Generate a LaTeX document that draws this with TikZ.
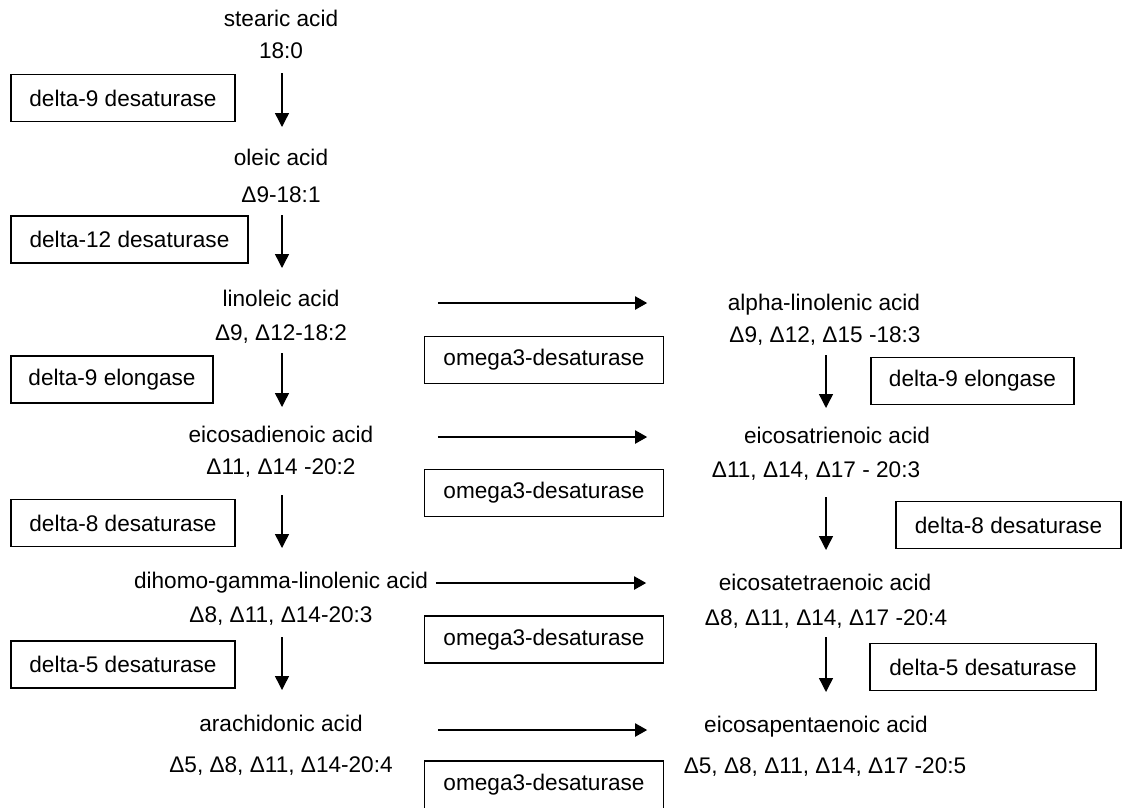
\documentclass[tikz,border=0pt]{standalone}
\usepackage{fontspec}
\setmainfont{Liberation Sans}
\usetikzlibrary{arrows.meta}
\begin{document}
\begin{tikzpicture}[x=1pt,y=-1pt,
  lbl/.style={inner sep=0pt, anchor=base, font=\fontsize{22.6}{26}\selectfont},
  enz/.style={draw, line width=1.4pt, inner sep=0pt, minimum height=47pt,
    font=\fontsize{22.6}{26}\selectfont},
  varr/.style={line width=1.4pt, -{Triangle[length=14pt,width=14pt]}},
  harr/.style={line width=2pt, -{Triangle[length=12pt,width=13pt]}}]
\clip (0,0) rectangle (1123,807);
\fill[white] (0,0) rectangle (1123,807);

% omega-6 branch (left column)
\node[lbl] (n1) at (281,26)  {stearic acid};
\node[lbl] (f1) at (281,58)  {18:0};
\node[lbl] (n2) at (281,165) {oleic acid};
\node[lbl] (f2) at (281,202) {Δ9-18:1};
\node[lbl] (n3) at (281,306) {linoleic acid};
\node[lbl] (f3) at (281,340) {Δ9, Δ12-18:2};
\node[lbl] (n4) at (281,442) {eicosadienoic acid};
\node[lbl] (f4) at (281,474) {Δ11, Δ14 -20:2};
\node[lbl] (n5) at (281,588) {dihomo-gamma-linolenic acid};
\node[lbl] (f5) at (281,622) {Δ8, Δ11, Δ14-20:3};
\node[lbl] (n6) at (281,731) {arachidonic acid};
\node[lbl] (f6) at (281,772) {Δ5, Δ8, Δ11, Δ14-20:4};

% omega-3 branch (right column)
\node[lbl] (r1) at (824,310) {alpha-linolenic acid};
\node[lbl] (g1) at (825,342) {Δ9, Δ12, Δ15 -18:3};
\node[lbl] (r2) at (837,443) {eicosatrienoic acid};
\node[lbl] (g2) at (816,477) {Δ11, Δ14, Δ17 - 20:3};
\node[lbl] (r3) at (825,590) {eicosatetraenoic acid};
\node[lbl] (g3) at (826,625) {Δ8, Δ11, Δ14, Δ17 -20:4};
\node[lbl] (r4) at (816,732) {eicosapentaenoic acid};
\node[lbl] (g4) at (825,773) {Δ5, Δ8, Δ11, Δ14, Δ17 -20:5};

% enzymes, left column
\node[enz, minimum width=224pt] (e1) at (123,98)      {delta-9 desaturase};
\node[enz, minimum width=237pt] (e2) at (129.5,239.5) {delta-12 desaturase};
\node[enz, minimum width=202pt] (e3) at (112,379.5)   {delta-9 elongase};
\node[enz, minimum width=224pt] (e4) at (123,523)     {delta-8 desaturase};
\node[enz, minimum width=224pt] (e5) at (123,664.5)   {delta-5 desaturase};

% omega3-desaturase boxes
\node[enz, minimum width=239pt] (o1) at (544,360)   {omega3-desaturase};
\node[enz, minimum width=239pt] (o2) at (544,493)   {omega3-desaturase};
\node[enz, minimum width=239pt] (o3) at (544,639.5) {omega3-desaturase};
\node[enz, minimum width=239pt, minimum height=48pt] (o4) at (544,785) {omega3-desaturase};

% enzymes, right column
\node[enz, minimum width=203pt] (s1) at (972.5,381) {delta-9 elongase};
\node[enz, minimum width=225pt] (s2) at (1008.5,525) {delta-8 desaturase};
\node[enz, minimum width=226pt] (s3) at (983,667)   {delta-5 desaturase};

% vertical steps, left
\draw[varr] ([xshift=1pt,yshift=-15pt]f1.base) -- ([xshift=1pt,yshift=-69pt]f1.base);
\draw[varr] ([xshift=1pt,yshift=-13pt]f2.base) -- ([xshift=1pt,yshift=-66pt]f2.base);
\draw[varr] ([xshift=1pt,yshift=-13pt]f3.base) -- ([xshift=1pt,yshift=-67pt]f3.base);
\draw[varr] ([xshift=1pt,yshift=-21pt]f4.base) -- ([xshift=1pt,yshift=-74pt]f4.base);
\draw[varr] ([xshift=1pt,yshift=-15pt]f5.base) -- ([xshift=1pt,yshift=-68pt]f5.base);

% vertical steps, right
\draw[varr] ([xshift=1pt,yshift=-13pt]g1.base) -- ([xshift=1pt,yshift=-66pt]g1.base);
\draw[varr] ([xshift=10pt,yshift=-20pt]g2.base) -- ([xshift=10pt,yshift=-73pt]g2.base);
\draw[varr] ([yshift=-12pt]g3.base) -- ([yshift=-67pt]g3.base);

% omega3 desaturation steps
\draw[harr] ([xshift=14pt,yshift=7pt]o1.north west |- r1.base) -- ([xshift=-17pt,yshift=7pt]o1.north east |- r1.base);
\draw[harr] ([xshift=14pt,yshift=6pt]o2.north west |- r2.base) -- ([xshift=-17pt,yshift=6pt]o2.north east |- r2.base);
\draw[harr] ([xshift=12pt,yshift=7pt]o3.north west |- r3.base) -- ([xshift=-18pt,yshift=7pt]o3.north east |- r3.base);
\draw[harr] ([xshift=14pt,yshift=2pt]o4.north west |- r4.base) -- ([xshift=-17pt,yshift=2pt]o4.north east |- r4.base);
\end{tikzpicture}
\end{document}
